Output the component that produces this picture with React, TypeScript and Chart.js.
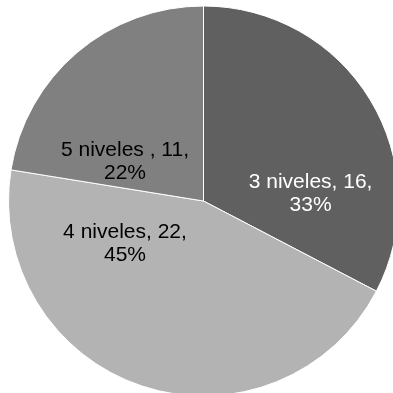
import React, { useEffect, useRef } from "react";
import { Chart, registerables } from "chart.js";

Chart.register(...registerables);

const categories = ["3 niveles", "4 niveles", "5 niveles "];
const values = [16, 22, 11];
const percentLabels = ["33%", "45%", "22%"];
const sliceColors = ["#606060", "#b3b3b3", "#808080"];
const labelColors = ["#ffffff", "#000000", "#000000"];
// label anchor offsets relative to pie centre, in units of radius (x, first baseline y)
const labelOffsets = [
  [0.549, -0.067],
  [-0.4026, 0.192],
  [-0.4026, -0.231],
];

const labelPlugin = {
  id: "sliceLabels",
  afterDatasetsDraw(chart: any) {
    const ctx = chart.ctx;
    const meta = chart.getDatasetMeta(0);
    ctx.save();
    ctx.font = "21px 'Liberation Sans', Arial, sans-serif";
    ctx.textAlign = "center";
    ctx.textBaseline = "alphabetic";
    meta.data.forEach((arc: any, i: number) => {
      const R = arc.outerRadius;
      const x = arc.x + labelOffsets[i][0] * R;
      const y = arc.y + labelOffsets[i][1] * R;
      ctx.fillStyle = labelColors[i];
      ctx.fillText(`${categories[i]}, ${values[i]},`, x, y);
      ctx.fillText(percentLabels[i], x, y + 23);
    });
    ctx.restore();
  },
};

export default function App() {
  const ref = useRef<HTMLCanvasElement | null>(null);
  useEffect(() => {
    if (!ref.current) return;
    const chart = new Chart(ref.current, {
      type: "pie",
      data: {
        labels: categories,
        datasets: [
          {
            data: values,
            backgroundColor: sliceColors,
            borderColor: "#ffffff",
            borderWidth: 1,
            hoverOffset: 0,
            radius: 195,
          },
        ],
      },
      options: {
        responsive: false,
        animation: false,
        layout: { padding: 0 },
        plugins: {
          legend: { display: false },
          tooltip: { enabled: false },
        },
      },
      plugins: [labelPlugin],
    });
    return () => chart.destroy();
  }, []);
  return (
    <canvas
      ref={ref}
      width={407}
      height={402}
      style={{ position: "fixed", left: 0, top: 0, width: 407, height: 402 }}
    />
  );
}
